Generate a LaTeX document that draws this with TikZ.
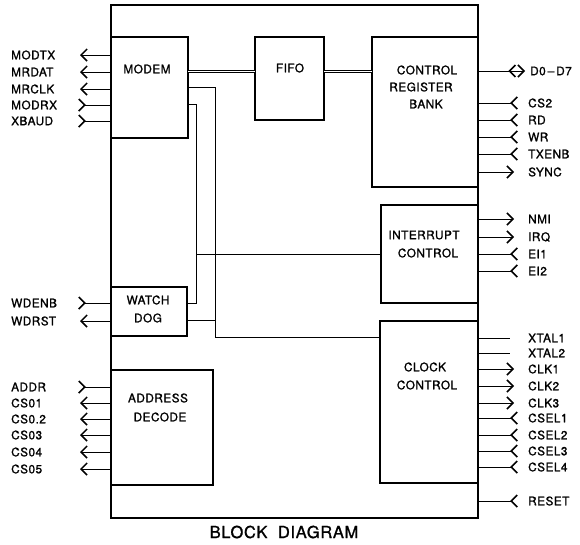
\documentclass[tikz,border=0pt]{standalone}
\usepackage{fontspec}
\setmainfont{TeX Gyre Heros}[LetterSpace=4, FakeBold=1.2]
\usetikzlibrary{arrows.meta}
\begin{document}
\begin{tikzpicture}[x=1pt,y=-1pt,
  blk/.style={draw, line width=1.4pt, inner sep=0pt, outer sep=0pt, anchor=north west},
  outerbox/.style={draw, line width=1.2pt, inner sep=0pt, outer sep=0pt, anchor=north west},
  txt/.style={inner sep=0pt, font=\fontsize{11.8}{13}\selectfont},
  lbl/.style={inner sep=0pt, anchor=west, font=\fontsize{11.8}{13}\selectfont},
  sig/.style={line width=1pt},
  tipa/.tip={Straight Barb[length=6pt,width=12pt,line width=1.5pt]},
  tipr/.tip={Straight Barb[length=6pt,width=12pt,line width=1.5pt,reversed]},
  sigout/.style={sig, -tipa},
  sigin/.style={sig, -tipr},
  sigbi/.style={sig, -{tipr[sep=1pt]tipa}},
  wire/.style={line width=0.8pt},
  bus/.style={double, double distance=1.8pt, line width=0.9pt}]
\useasboundingbox (0,0) rectangle (580,544);
% outer box
\node[outerbox, minimum width=367pt, minimum height=513pt] (outer) at (111,5) {};
% blocks
\node[blk, minimum width=77pt, minimum height=101pt] (modem) at (111,37) {};
\node[blk, minimum width=69pt, minimum height=83pt] (fifo) at (255,37) {};
\node[blk, minimum width=106pt, minimum height=150pt] (crb) at (372,37) {};
\node[blk, minimum width=97pt, minimum height=98pt] (intc) at (381,205) {};
\node[blk, minimum width=98pt, minimum height=162pt] (clk) at (380,321) {};
\node[blk, minimum width=76pt, minimum height=49pt] (wd) at (111,287) {};
\node[blk, minimum width=102pt, minimum height=115pt] (addr) at (111,370) {};
% block texts
\node[txt] (tmodem) at (147,69) {MODEM};
\node[txt] (tfifo) at (290,68) {FIFO};
\node[txt] (tcrb1) at (427,70) {CONTROL};
\node[txt] (tcrb2) at (421,87) {REGISTER};
\node[txt] (tcrb3) at (426,104) {BANK};
\node[txt] (tint1) at (424,235) {INTERRUPT};
\node[txt] (tint2) at (428,253) {CONTROL};
\node[txt] (tclk1) at (425,367) {CLOCK};
\node[txt] (tclk2) at (427,385) {CONTROL};
\node[txt] (twd1) at (148,300) {WATCH};
\node[txt] (twd2) at (148,318) {DOG};
\node[txt] (tad1) at (158,398) {ADDRESS};
\node[txt] (tad2) at (160,417) {DECODE};
% title
\node[inner sep=0pt, font=\fontsize{16.5}{18}\selectfont] (title) at (284,532) {BLOCK\ \ DIAGRAM};
% buses
\draw[bus] (modem.east |- 0,71.5) -- (fifo.west |- 0,71.5);
\draw[bus] (fifo.east |- 0,71.5) -- (crb.west |- 0,71.5);
% internal wires
\coordinate (jB) at (196,254);
\coordinate (jA) at (215,320);
\draw[wire] (modem.east |- 0,87) -| (215,337) -- (clk.west |- 0,337);
\draw[wire] (modem.east |- 0,104) -| (196,303) -- (wd.east |- 0,303);
\draw[wire] (jB) -- (intc.west |- 0,254);
\draw[wire] (wd.east |- 0,320) -- (jA);
% left signals
\foreach \n/\y/\t/\b/\s/\x in {mtx/55/MODTX/modem/sigout/80, mrd/72/MRDAT/modem/sigout/80, mrc/89/MRCLK/modem/sigout/80,
  mrx/105/MODRX/modem/sigin/78, xb/121/XBAUD/modem/sigin/78,
  wde/303/WDENB/wd/sigin/78, wdr/321/WDRST/wd/sigout/80,
  adr/387/ADDR/addr/sigin/78, cs1/403/CS01/addr/sigout/80, cs2/419/CS0.2/addr/sigout/80,
  cs3/435/CS03/addr/sigout/80, cs4/452/CS04/addr/sigout/80, cs5/469/CS05/addr/sigout/80}{
  \node[lbl] (l\n) at (11,\y) {\t};
  \coordinate (e\n) at (\x,\y);
  \draw[\s] (\b.west |- 0,\y) -- (e\n);
}
% right signals
\foreach \n/\y/\t/\b/\s/\x in {rcs/103/CS2/crb/sigin/518, rrd/120/RD/crb/sigin/518, rwr/137/WR/crb/sigin/518,
  rtx/154/TXENB/crb/sigin/518, rsy/172/SYNC/crb/sigout/514,
  rnm/219/NMI/intc/sigout/514, rir/237/IRQ/intc/sigout/514, re1/254/EI1/intc/sigin/518, re2/271/EI2/intc/sigin/518,
  rx1/338/XTAL1/clk/sig/510, rx2/353/XTAL2/clk/sig/510,
  rc1/369/CLK1/clk/sigout/514, rc2/386/CLK2/clk/sigout/514, rc3/403/CLK3/clk/sigout/514,
  rs1/418/CSEL1/clk/sigin/518, rs2/435/CSEL2/clk/sigin/518, rs3/451/CSEL3/clk/sigin/518, rs4/467/CSEL4/clk/sigin/518,
  rrs/501/RESET/outer/sigin/518}{
  \node[lbl] (l\n) at (528,\y) {\t};
  \coordinate (e\n) at (\x,\y);
  \draw[\s] (\b.east |- 0,\y) -- (e\n);
}
\node[lbl] (ldd) at (530,71) {D0\,–\,D7};
\coordinate (edd) at (525,71);
\draw[sigbi] (crb.east |- 0,71) -- (edd);
\end{tikzpicture}
\end{document}
